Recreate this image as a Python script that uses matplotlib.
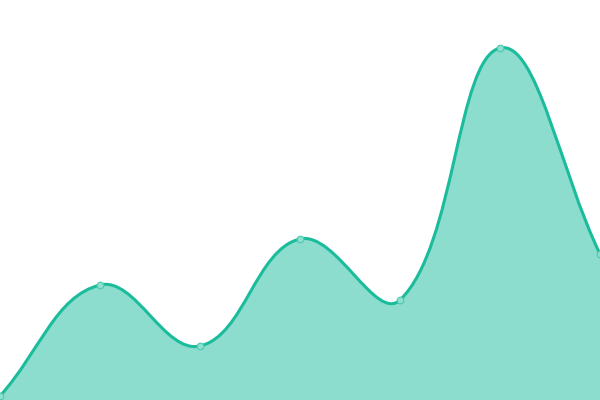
import numpy as np
import matplotlib
matplotlib.use("Agg")
import matplotlib.pyplot as plt
from matplotlib.path import Path
from matplotlib.patches import PathPatch

# data
categories = [0, 1, 2, 3, 4, 5, 6]
values = [1.0, 28.75, 13.5, 40.25, 25.0, 88.0, 36.5]

LINE = "#1abc9c"
FILL = (26/255, 188/255, 156/255, 0.5)
MARK_FACE = "#8be0cf"
MARK_EDGE = "#4cc9b0"
tension = 0.4

fig = plt.figure(figsize=(6, 4), dpi=100)
ax = fig.add_axes([0, 0, 1, 1])
ax.set_xlim(0, 6)
ax.set_ylim(0, 100)
ax.axis("off")

# compute spline control points in display space (Chart.js style)
pts = ax.transData.transform(np.column_stack([categories, values]))
n = len(pts)
cps_prev = []
cps_next = []
for i in range(n):
    cur = pts[i]
    prev = pts[i - 1] if i > 0 else cur
    nxt = pts[i + 1] if i < n - 1 else cur
    d01 = np.hypot(*(cur - prev))
    d12 = np.hypot(*(nxt - cur))
    tot = d01 + d12
    s01 = d01 / tot if tot else 0
    s12 = d12 / tot if tot else 0
    fa = tension * s01
    fb = tension * s12
    cps_prev.append(cur - fa * (nxt - prev))
    cps_next.append(cur + fb * (nxt - prev))

inv = ax.transData.inverted()
verts = [pts[0]]
codes = [Path.MOVETO]
for i in range(n - 1):
    verts += [cps_next[i], cps_prev[i + 1], pts[i + 1]]
    codes += [Path.CURVE4] * 3
verts_d = inv.transform(np.array(verts))

line_path = Path(verts_d, codes)
fill_verts = list(verts_d) + [(categories[-1], 0), (categories[0], 0), tuple(verts_d[0])]
fill_codes = codes + [Path.LINETO, Path.LINETO, Path.CLOSEPOLY]
ax.add_patch(PathPatch(Path(fill_verts, fill_codes), facecolor=FILL, edgecolor="none"))
ax.add_patch(PathPatch(line_path, facecolor="none", edgecolor=LINE, linewidth=2.2))
ax.plot(categories, values, linestyle="none", marker="o", markersize=4.8,
        markerfacecolor=MARK_FACE, markeredgecolor=MARK_EDGE, markeredgewidth=0.8)

fig.savefig("out.png", dpi=100)
